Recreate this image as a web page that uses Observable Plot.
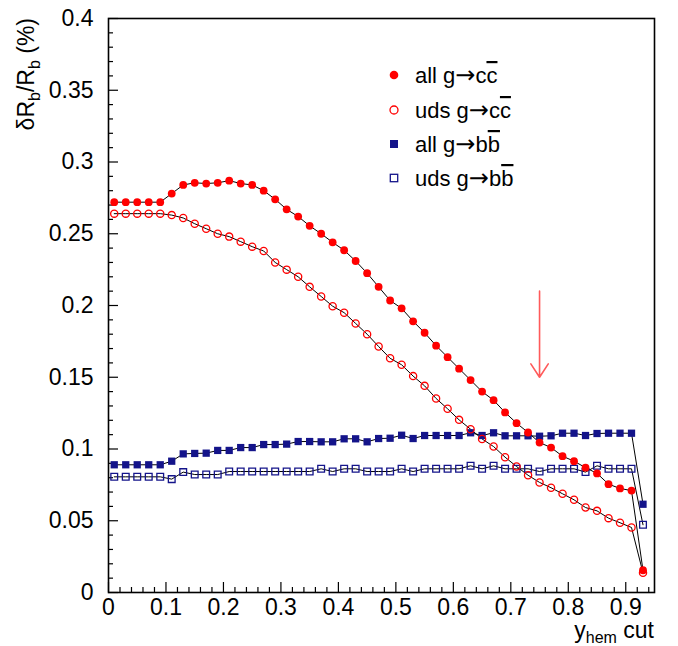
<!DOCTYPE html>
<html><head><meta charset="utf-8">
<script src="https://cdn.jsdelivr.net/npm/d3@7"></script>
<script src="https://cdn.jsdelivr.net/npm/@observablehq/plot@0.6"></script>
<style>
body{margin:0;background:#fff;}
#chart svg{font-family:"Liberation Sans",Arial,Helvetica,sans-serif;overflow:visible;}
</style>
</head><body><div id="chart"></div>
<script>
// y_hem cut values (bin centres)
const yhem = [0.01,0.03,0.05,0.07,0.09,0.11,0.13,0.15,0.17,0.19,0.21,0.23,0.25,0.27,0.29,0.31,0.33,0.35,0.37,0.39,0.41,0.43,0.45,0.47,0.49,0.51,0.53,0.55,0.57,0.59,0.61,0.63,0.65,0.67,0.69,0.71,0.73,0.75,0.77,0.79,0.81,0.83,0.85,0.87,0.89,0.91,0.93];
// all g -> c cbar
const allCC = [0.272,0.272,0.272,0.272,0.272,0.278,0.284,0.2855,0.285,0.2855,0.287,0.285,0.284,0.280,0.274,0.267,0.262,0.2555,0.250,0.244,0.2385,0.231,0.2225,0.213,0.2035,0.198,0.189,0.181,0.172,0.164,0.156,0.148,0.140,0.134,0.1255,0.118,0.1115,0.1045,0.101,0.095,0.0915,0.087,0.083,0.0755,0.0725,0.071,0.0155];
// uds g -> c cbar
const udsCC = [0.264,0.264,0.264,0.264,0.264,0.263,0.261,0.257,0.2535,0.250,0.248,0.2445,0.241,0.238,0.230,0.225,0.220,0.213,0.2063,0.1995,0.195,0.1875,0.180,0.1714,0.1632,0.1587,0.1508,0.144,0.1352,0.128,0.1203,0.1138,0.107,0.1017,0.0943,0.0878,0.0817,0.0767,0.073,0.0688,0.0646,0.0592,0.0569,0.0518,0.0486,0.0453,0.0137];
// all g -> b bbar
const allBB = [0.089,0.089,0.089,0.089,0.089,0.0915,0.0966,0.0969,0.0971,0.099,0.099,0.101,0.101,0.1031,0.1031,0.1034,0.1052,0.1052,0.105,0.105,0.1071,0.1071,0.105,0.1073,0.1075,0.1096,0.1073,0.1094,0.1094,0.1094,0.1094,0.1113,0.1094,0.1113,0.1092,0.1092,0.1092,0.1089,0.1092,0.111,0.111,0.1094,0.1108,0.111,0.111,0.111,0.0615];
// uds g -> b bbar
const udsBB = [0.0806,0.0806,0.0806,0.0806,0.0806,0.079,0.0839,0.0822,0.0822,0.0822,0.0843,0.0843,0.0843,0.0843,0.0843,0.0843,0.0843,0.0843,0.0862,0.0843,0.0862,0.0862,0.0843,0.0843,0.0843,0.0862,0.0843,0.0862,0.0862,0.0862,0.0862,0.0883,0.0862,0.0883,0.0862,0.0862,0.0862,0.0843,0.0862,0.0862,0.0862,0.0839,0.0883,0.0862,0.0862,0.0862,0.0472];

// chosen cut marker (arrow)
const cutArrow = [{x: 0.75, yTop: 0.21, yBottom: 0.15}];

// axis ticks
const xMajor = [0,0.1,0.2,0.3,0.4,0.5,0.6,0.7,0.8,0.9];
const xMajorLabels = ["0","0.1","0.2","0.3","0.4","0.5","0.6","0.7","0.8","0.9"];
const xMinor = [0.02,0.04,0.06,0.08,0.12,0.14,0.16,0.18,0.22,0.24,0.26,0.28,0.32,0.34,0.36,0.38,0.42,0.44,0.46,0.48,0.52,0.54,0.56,0.58,0.62,0.64,0.66,0.68,0.72,0.74,0.76,0.78,0.82,0.84,0.86,0.88,0.92,0.94];
const yMajor = [0,0.05,0.1,0.15,0.2,0.25,0.3,0.35,0.4];
const yMajorLabels = ["0","0.05","0.1","0.15","0.2","0.25","0.3","0.35","0.4"];
const yMinor = [0.01,0.02,0.03,0.04,0.06,0.07,0.08,0.09,0.11,0.12,0.13,0.14,0.16,0.17,0.18,0.19,0.21,0.22,0.23,0.24,0.26,0.27,0.28,0.29,0.31,0.32,0.33,0.34,0.36,0.37,0.38,0.39];

const RED = "#ff0000";
const NAVY = "#14148a";

const rows = yhem.map((x, i) => ({x, allCC: allCC[i], udsCC: udsCC[i], allBB: allBB[i], udsBB: udsBB[i]}));

const blank = () => "";

const chart = Plot.plot({
  width: 678,
  height: 646,
  marginLeft: 108,
  marginRight: 24,
  marginTop: 18,
  marginBottom: 54,
  style: {background: "white", fontFamily: "'Liberation Sans', Arial, sans-serif"},
  x: {domain: [0, 0.95]},
  y: {domain: [0, 0.4]},
  marks: [
    // ticks (inside, ROOT style)
    Plot.axisX({ticks: xMinor, tickSize: -5, anchor: "bottom", strokeWidth: 1.2, tickFormat: blank, label: null}),
    Plot.axisX({ticks: xMajor, tickSize: -10, anchor: "bottom", strokeWidth: 1.2, tickFormat: blank, label: null}),
    Plot.axisX({ticks: xMajor, tickSize: 0, tickPadding: 6, anchor: "bottom", fontSize: 23, color: "black", tickFormat: (d, i) => xMajorLabels[i], label: null}),
    Plot.axisY({ticks: yMinor, tickSize: -5, anchor: "left", strokeWidth: 1.2, tickFormat: blank, label: null}),
    Plot.axisY({ticks: yMajor, tickSize: -10, anchor: "left", strokeWidth: 1.2, tickFormat: blank, label: null}),
    Plot.axisY({ticks: yMajor, tickSize: 0, tickPadding: 15, anchor: "left", fontSize: 23, color: "black", tickFormat: (d, i) => yMajorLabels[i], label: null}),
    // connecting lines
    Plot.line(rows, {x: "x", y: "allCC", stroke: "black", strokeWidth: 1}),
    Plot.line(rows, {x: "x", y: "udsCC", stroke: "black", strokeWidth: 1}),
    Plot.line(rows, {x: "x", y: "allBB", stroke: "black", strokeWidth: 1}),
    Plot.line(rows, {x: "x", y: "udsBB", stroke: "black", strokeWidth: 1}),
    // markers
    Plot.dot(rows, {x: "x", y: "udsBB", symbol: "square", r: 3.8, fill: "none", stroke: NAVY, strokeWidth: 1.3}),
    Plot.dot(rows, {x: "x", y: "allBB", symbol: "square", r: 4.1, fill: NAVY, stroke: "none"}),
    Plot.dot(rows, {x: "x", y: "udsCC", r: 3.6, fill: "none", stroke: RED, strokeWidth: 1.3}),
    Plot.dot(rows, {x: "x", y: "allCC", r: 3.9, fill: RED, stroke: "none"}),
    // arrow marking the cut
    Plot.arrow(cutArrow, {x1: "x", x2: "x", y1: "yTop", y2: "yBottom", stroke: "#ff5a5a", strokeWidth: 1.6, headLength: 15, headAngle: 66}),
    Plot.frame({stroke: "black", strokeWidth: 1.6})
  ]
});

document.getElementById("chart").appendChild(chart);

// Axis titles and legend (text with sub/overline)
const svg = d3.select(chart);
const FONT = "'Liberation Sans', Arial, sans-serif";

// y-axis title
const yt = svg.append("text")
  .attr("transform", "translate(34,18) rotate(-90)")
  .attr("text-anchor", "end")
  .attr("font-family", FONT).attr("font-size", 23).attr("fill", "black");
yt.append("tspan").text("δR");
yt.append("tspan").attr("font-size", 16).attr("dy", 6).text("b");
yt.append("tspan").attr("dy", -6).text("/R");
yt.append("tspan").attr("font-size", 16).attr("dy", 6).text("b");
yt.append("tspan").attr("dy", -6).text(" (%)");

// x-axis title
const xt = svg.append("text")
  .attr("x", 654).attr("y", 638)
  .attr("text-anchor", "end")
  .attr("font-family", FONT).attr("font-size", 23).attr("fill", "black");
xt.append("tspan").text("y");
xt.append("tspan").attr("font-size", 16).attr("dy", 5).text("hem");
xt.append("tspan").attr("dy", -5).text(" cut");

// legend
const legendItems = [
  {pre: "all g", q: "c", kind: "fcircle", y: 75},
  {pre: "uds g", q: "c", kind: "ocircle", y: 110},
  {pre: "all g", q: "b", kind: "fsquare", y: 144},
  {pre: "uds g", q: "b", kind: "osquare", y: 178}
];
const lg = svg.append("g");
for (const it of legendItems) {
  const mx = 394;
  if (it.kind === "fcircle") lg.append("circle").attr("cx", mx).attr("cy", it.y).attr("r", 4.3).attr("fill", RED);
  if (it.kind === "ocircle") lg.append("circle").attr("cx", mx).attr("cy", it.y).attr("r", 4).attr("fill", "none").attr("stroke", RED).attr("stroke-width", 1.3);
  if (it.kind === "fsquare") lg.append("rect").attr("x", mx - 4).attr("y", it.y - 4).attr("width", 8).attr("height", 8).attr("fill", NAVY);
  if (it.kind === "osquare") lg.append("rect").attr("x", mx - 3.7).attr("y", it.y - 3.7).attr("width", 7.4).attr("height", 7.4).attr("fill", "none").attr("stroke", NAVY).attr("stroke-width", 1.3);
  const t = lg.append("text").attr("x", 415).attr("y", it.y + 8)
    .attr("text-anchor", "start")
    .attr("font-family", FONT).attr("font-size", 22).attr("fill", "black");
  t.append("tspan").text(it.pre);
  t.append("tspan").attr("font-family", "'DejaVu Sans', sans-serif").attr("font-size", 24).text("→");
  t.append("tspan").text(it.q);
  t.append("tspan").style("text-decoration", "overline").text(it.q);
}
</script>
</body></html>
